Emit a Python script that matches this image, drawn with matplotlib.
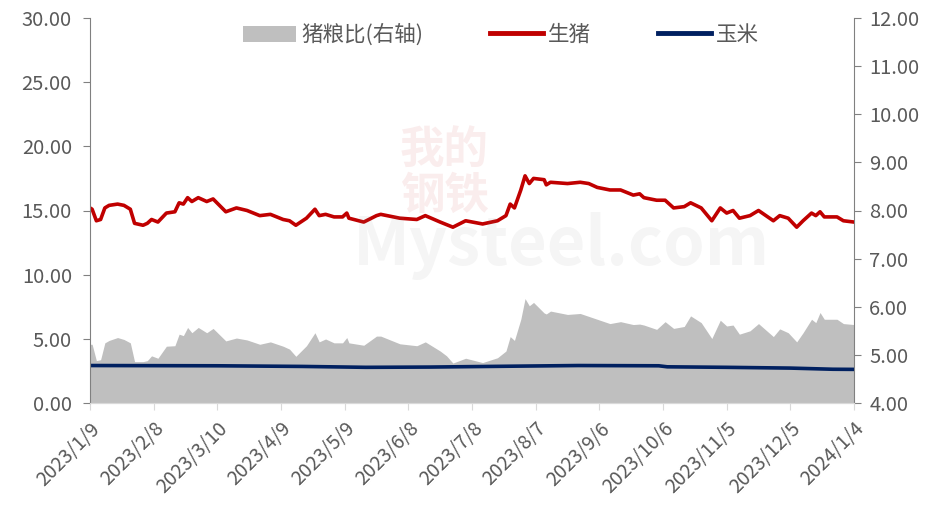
import matplotlib
matplotlib.use("Agg")
import matplotlib.pyplot as plt
import pandas as pd
from matplotlib.patches import Patch
from matplotlib.lines import Line2D

plt.rcParams['font.family'] = ['Noto Sans CJK SC', 'DejaVu Sans']

# ------------------ 데이터 ------------------
start = pd.Timestamp("2023-01-09")

# 생돈/猪粮比 (day offset from 2023/1/9)
days = [0, 1, 3, 5, 7, 9, 13, 16, 19, 21, 25, 27, 29, 32, 36, 40, 42, 44, 46, 48,
        51, 55, 58, 64, 69, 74, 80, 85, 91, 94, 97, 102, 106, 108, 111, 115, 119, 121, 122, 129,
        135, 137, 146, 154, 158, 165, 168, 171, 177, 185, 192, 196, 198, 200, 203, 205, 207, 209, 214, 215,
        217, 225, 231, 235, 239, 245, 250, 256, 259, 261, 267, 271, 275, 280, 283, 288, 293, 297, 300, 303,
        306, 311, 315, 322, 325, 329, 333, 336, 340, 342, 344, 346, 352, 355, 360]
hog = [15.2, 15.1, 14.2, 14.3, 15.2, 15.4, 15.5, 15.4, 15.1, 14.0, 13.85, 14.0, 14.3, 14.1, 14.8, 14.9, 15.6, 15.5, 16.0, 15.7,
       16.0, 15.7, 15.9, 14.9, 15.2, 15.0, 14.6, 14.7, 14.3, 14.2, 13.85, 14.4, 15.1, 14.6, 14.7, 14.5, 14.5, 14.8, 14.4, 14.1,
       14.6, 14.7, 14.4, 14.3, 14.6, 14.1, 13.9, 13.7, 14.2, 13.95, 14.2, 14.6, 15.5, 15.2, 16.6, 17.7, 17.1, 17.5, 17.4, 17.0,
       17.2, 17.1, 17.2, 17.1, 16.8, 16.6, 16.6, 16.2, 16.3, 16.0, 15.8, 15.8, 15.2, 15.3, 15.6, 15.2, 14.2, 15.2, 14.8, 15.0,
       14.4, 14.6, 15.0, 14.2, 14.6, 14.4, 13.7, 14.2, 14.8, 14.6, 14.9, 14.5, 14.5, 14.2, 14.1]
ratio = [5.22, 5.22, 4.88, 4.90, 5.25, 5.30, 5.36, 5.32, 5.25, 4.86, 4.86, 4.88, 4.98, 4.93, 5.18, 5.19, 5.43, 5.40, 5.57, 5.46,
         5.57, 5.46, 5.55, 5.29, 5.35, 5.31, 5.22, 5.27, 5.18, 5.12, 4.97, 5.19, 5.46, 5.27, 5.33, 5.25, 5.25, 5.36, 5.25, 5.20,
         5.39, 5.39, 5.23, 5.19, 5.27, 5.08, 4.98, 4.83, 4.93, 4.84, 4.94, 5.08, 5.38, 5.30, 5.74, 6.17, 6.02, 6.09, 5.87, 5.85,
         5.91, 5.84, 5.86, 5.80, 5.74, 5.65, 5.69, 5.63, 5.64, 5.62, 5.53, 5.69, 5.55, 5.59, 5.81, 5.67, 5.34, 5.72, 5.60, 5.62,
         5.43, 5.50, 5.65, 5.38, 5.54, 5.46, 5.27, 5.46, 5.74, 5.67, 5.88, 5.74, 5.74, 5.65, 5.63]

# 옥수수
corn_days = [0, 60, 100, 130, 160, 200, 230, 268, 272, 300, 330, 350, 360]
corn = [2.92, 2.90, 2.85, 2.78, 2.80, 2.87, 2.92, 2.90, 2.82, 2.78, 2.72, 2.63, 2.62]

tick_days = list(range(0, 361, 30))

dates = [start + pd.Timedelta(days=d) for d in days]
corn_dates = [start + pd.Timedelta(days=d) for d in corn_days]
tick_dates = [start + pd.Timedelta(days=d) for d in tick_days]
tick_labels = [f"{t.year}/{t.month}/{t.day}" for t in tick_dates]

# ------------------ 그래프 ------------------
text_color = "#595959"
fig = plt.figure(figsize=(9.35, 5.08), dpi=100)
ax = fig.add_axes([90 / 935, 1 - 403 / 508, 764 / 935, 385 / 508])
ax2 = ax.twinx()

ax2.fill_between(dates, ratio, 4, color="#BFBFBF", linewidth=0)
ax.plot(dates, hog, color="#C00000", linewidth=2.6, solid_joinstyle="round")
ax.plot(corn_dates, corn, color="#002060", linewidth=2.6)

ax.set_zorder(ax2.get_zorder() + 1)
ax.patch.set_visible(False)

ax.set_xlim(tick_dates[0], tick_dates[-1])
ax.set_ylim(0, 30)
ax2.set_ylim(4, 12)
ax.set_yticks(range(0, 31, 5))
ax2.set_yticks(range(4, 13, 1))
ax.set_yticklabels([f"{v:.2f}" for v in range(0, 31, 5)])
ax2.set_yticklabels([f"{v:.2f}" for v in range(4, 13, 1)])
ax.set_xticks(tick_dates)
ax.set_xticklabels(tick_labels, rotation=45, ha="right", rotation_mode="anchor")

for a in (ax, ax2):
    a.spines["top"].set_visible(False)
    a.spines["bottom"].set_color("#D9D9D9")
    a.spines["left"].set_color("#808080")
    a.spines["right"].set_color("#808080")
ax.spines["right"].set_visible(False)
ax2.spines["left"].set_visible(False)
ax.tick_params(axis="y", colors="#808080", labelcolor=text_color, labelsize=14.5, length=5, pad=8)
ax2.tick_params(axis="y", colors="#808080", labelcolor=text_color, labelsize=14.5, length=5, pad=6)
ax.tick_params(axis="x", colors="#D9D9D9", labelcolor=text_color, labelsize=14, length=5, pad=6)

# 워터마크
fig.text(0.475, 0.66, "我的\n钢铁", color="#C00000", alpha=0.07, fontsize=32,
         fontweight="bold", ha="center", va="center", linespacing=1.0)
fig.text(0.6, 0.515, "Mysteel.com", color="#808080", alpha=0.08, fontsize=48,
         fontweight="bold", ha="center", va="center")

handles = [Patch(facecolor="#BFBFBF", edgecolor="none"),
           Line2D([], [], color="#C00000", linewidth=3.5),
           Line2D([], [], color="#002060", linewidth=3.5)]
ax.legend(handles, ["猪粮比(右轴)", "生猪", "玉米"], loc="center",
          bbox_to_anchor=(0.538, 1 - 17 / 385), ncol=3, frameon=False, fontsize=15.5,
          labelcolor=text_color, handlelength=2.45, handleheight=0.75, columnspacing=3.1,
          handletextpad=0.25, borderaxespad=0.0, borderpad=0.0)

fig.savefig("out.png", dpi=100)
